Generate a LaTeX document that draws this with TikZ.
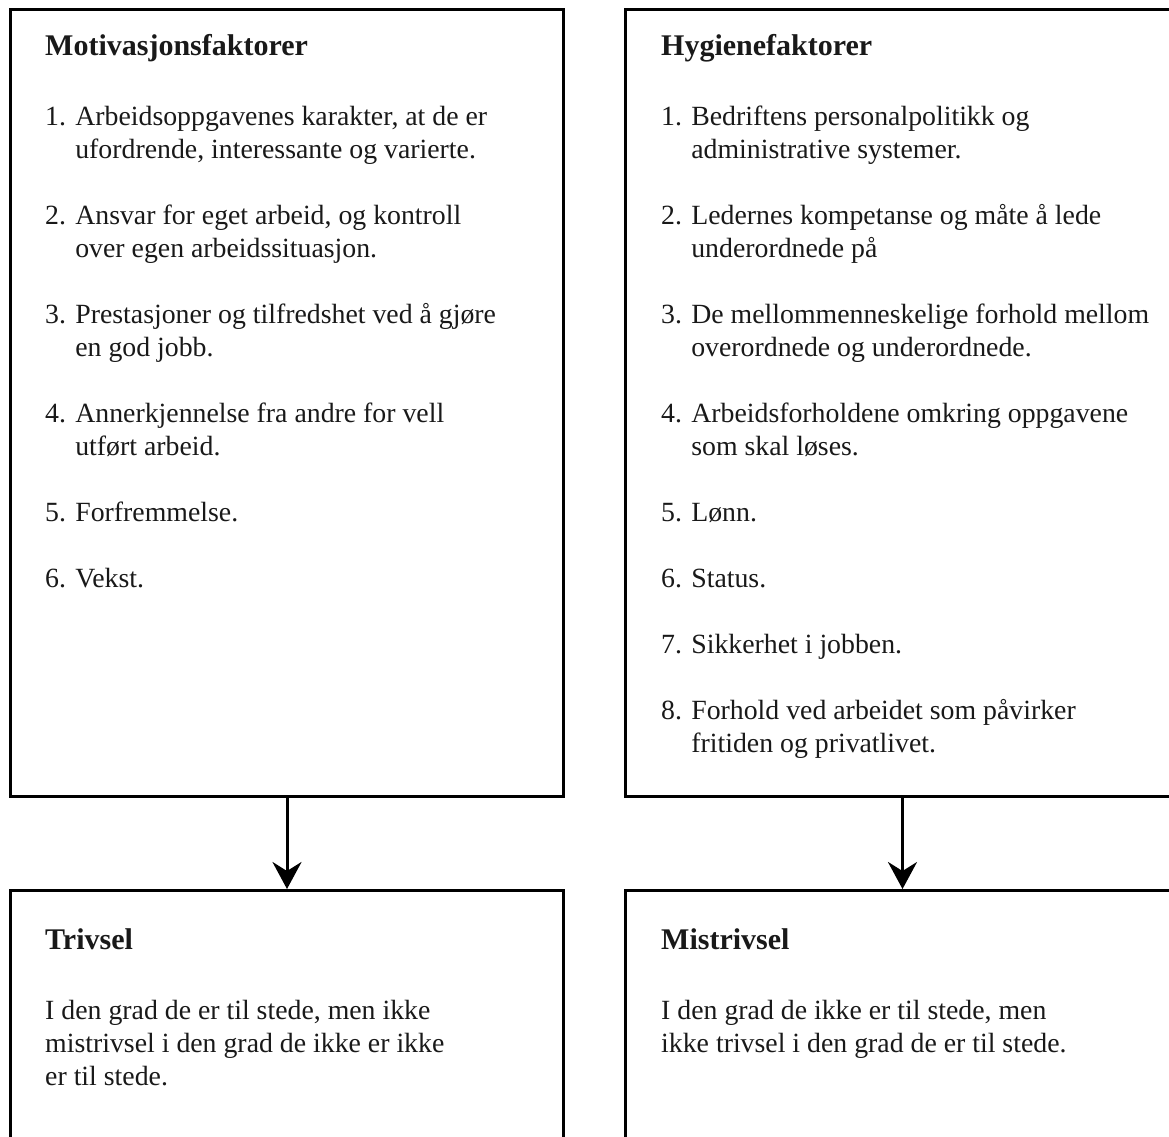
\documentclass[tikz,border=0pt]{standalone}
\usepackage{fontspec}
\setmainfont{Liberation Serif}
\usetikzlibrary{arrows.meta,positioning}

% nummerert punkt med hengende innrykk
\newcommand{\punkt}[3]{#1 #2\\\hphantom{#1 }#3}

\begin{document}
\begin{tikzpicture}[
  x=1pt, y=-1pt,
  boks/.style={draw=black, line width=3pt, inner sep=0pt, anchor=north west},
  tekst/.style={anchor=base west, inner sep=0pt, align=flush left, text width=520pt,
                font=\fontsize{27.8}{33}\selectfont, text=black!90},
  tittel/.style={font=\fontsize{30}{33}\selectfont\bfseries},
  pil/.style={-{Stealth[length=27pt, width=29pt, inset=9pt]}, line width=3pt}
]
\useasboundingbox (0,0) rectangle (1169,1136);
\clip (0,0) rectangle (1169,1136);

% Faktorer
\node[boks, minimum width=553pt, minimum height=787pt] (motiv) at (9,8) {};
\node[boks, minimum width=554pt, minimum height=787pt] (hygiene) at (624,8) {};

% Virkning
\node[boks, minimum width=553pt, minimum height=300pt] (trivsel) at (9,889) {};
\node[boks, minimum width=554pt, minimum height=300pt] (mistrivsel) at (624,889) {};

\node[tekst] (motivtekst) at (45,55) {%
  {\fontsize{30}{33}\selectfont\bfseries Motivasjonsfaktorer}\\[37pt]
  \punkt{1.}{Arbeidsoppgavenes karakter, at de er}{ufordrende, interessante og varierte.}\\[33pt]
  \punkt{2.}{Ansvar for eget arbeid, og kontroll}{over egen arbeidssituasjon.}\\[33pt]
  \punkt{3.}{Prestasjoner og tilfredshet ved å gjøre}{en god jobb.}\\[33pt]
  \punkt{4.}{Annerkjennelse fra andre for vell}{utført arbeid.}\\[33pt]
  5. Forfremmelse.\\[33pt]
  6. Vekst.};

\node[tekst] (hygienetekst) at (661,55) {%
  {\fontsize{30}{33}\selectfont\bfseries Hygienefaktorer}\\[37pt]
  \punkt{1.}{Bedriftens personalpolitikk og}{administrative systemer.}\\[33pt]
  \punkt{2.}{Ledernes kompetanse og måte å lede}{underordnede på}\\[33pt]
  \punkt{3.}{De mellommenneskelige forhold mellom}{overordnede og underordnede.}\\[33pt]
  \punkt{4.}{Arbeidsforholdene omkring oppgavene}{som skal løses.}\\[33pt]
  5. Lønn.\\[33pt]
  6. Status.\\[33pt]
  7. Sikkerhet i jobben.\\[33pt]
  \punkt{8.}{Forhold ved arbeidet som påvirker}{fritiden og privatlivet.}};

\node[tekst] (trivseltekst) at (45,949) {%
  {\fontsize{30}{33}\selectfont\bfseries Trivsel}\\[37pt]
  I den grad de er til stede, men ikke\\
  mistrivsel i den grad de ikke er ikke\\
  er til stede.};

\node[tekst] (mistrivseltekst) at (661,949) {%
  {\fontsize{30}{33}\selectfont\bfseries Mistrivsel}\\[37pt]
  I den grad de ikke er til stede, men\\
  ikke trivsel i den grad de er til stede.};

% Piler
\draw[pil] (motiv.south) -- (trivsel.north);
\draw[pil] (hygiene.south) -- (mistrivsel.north);

\end{tikzpicture}
\end{document}
